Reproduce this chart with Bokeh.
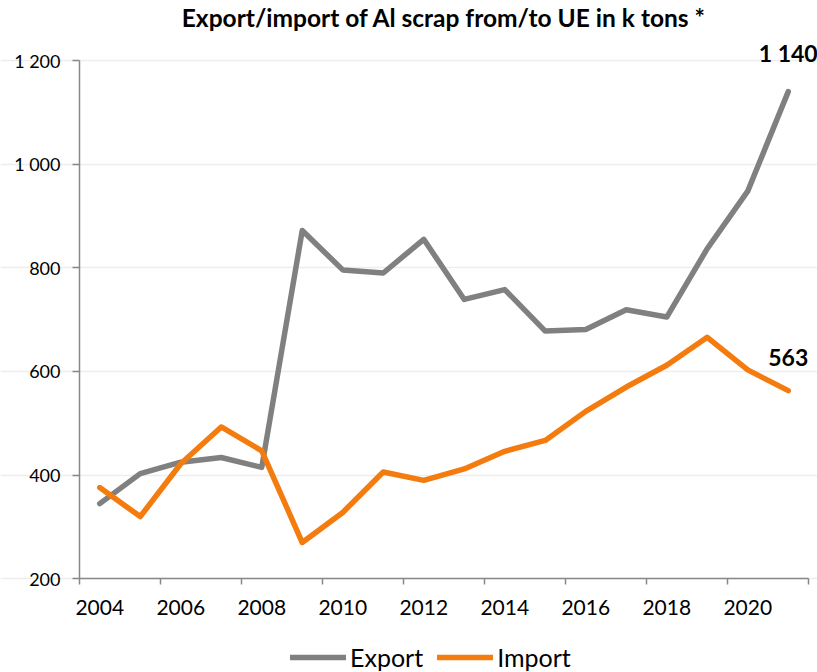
from bokeh.plotting import figure
from bokeh.models import (Range1d, FixedTicker, Legend, LegendItem, LabelSet,
                          Label, ColumnDataSource)
from bokeh.core.properties import value
from bokeh.embed import file_html
from bokeh.resources import INLINE

# ---- data ----
years = list(range(2004, 2022))
export_vals = [345, 403, 425, 434, 415, 872, 796, 790, 855, 739, 758, 678,
               681, 719, 705, 837, 948, 1140]
import_vals = [376, 320, 422, 493, 447, 270, 328, 406, 390, 412, 446, 467,
               523, 570, 612, 666, 603, 563]
y_ticks = [200, 400, 600, 800, 1000, 1200]
y_tick_labels = ["200", "400", "600", "800", "1 000", "1 200"]
x_ticks = [2004, 2006, 2008, 2010, 2012, 2014, 2016, 2018, 2020]
x_tick_labels = ["2004", "2006", "2008", "2010", "2012", "2014", "2016", "2018", "2020"]
end_labels = ["1 140", "563"]
title_text = "Export/import of Al scrap from/to UE in k tons *"

# ---- layout (canvas pixels) ----
W, H = 817, 672
AX_L, AX_R, AX_T, AX_B = 79.0, 808.0, 60.0, 578.3   # axes box inside canvas
x_lo, x_hi = years[0] - 0.5, years[-1] + 0.5
y_lo, y_hi = 200.0, 1200.0
sx = (AX_R - AX_L) / (x_hi - x_lo)
sy = (AX_B - AX_T) / (y_hi - y_lo)
x_start, x_end = x_lo - AX_L / sx, x_hi + (W - AX_R) / sx
y_start, y_end = y_lo - (H - AX_B) / sy, y_hi + AX_T / sy

GRAY = "#808080"
ORANGE = "#f47b0e"
AXC = "#888888"
FONT = "Lato"

p = figure(width=W, height=H, output_backend="svg", toolbar_location=None,
           x_range=Range1d(x_start, x_end), y_range=Range1d(y_start, y_end),
           min_border_left=0, min_border_right=0, min_border_top=0,
           min_border_bottom=0)
p.outline_line_color = None
p.background_fill_color = "white"
p.border_fill_color = "white"

r1 = p.line(years, export_vals, line_color=GRAY, line_width=5.5,
            line_join="round", line_cap="round")
r2 = p.line(years, import_vals, line_color=ORANGE, line_width=5.5,
            line_join="round", line_cap="round")

# x axis: labels at even years, tick marks at category boundaries
minor = [x_ticks[0] - 0.5 + 2 * i for i in range(len(x_ticks) + 1)]
xa = p.xaxis[0]
xa.fixed_location = y_lo
xa.bounds = (x_lo, x_hi)
xa.ticker = FixedTicker(ticks=x_ticks, minor_ticks=minor)
xa.major_label_overrides = {t: l for t, l in zip(x_ticks, x_tick_labels)}
xa.major_tick_out = 0
xa.major_tick_in = 0
xa.minor_tick_out = 6
xa.minor_tick_in = 0
xa.minor_tick_line_color = AXC
xa.minor_tick_line_width = 1.5
xa.axis_line_color = AXC
xa.axis_line_width = 1.5
xa.major_label_standoff = 15
xa.major_label_text_font = FONT
xa.major_label_text_font_size = "21px"
xa.major_label_text_color = "black"

ya = p.yaxis[0]
ya.fixed_location = x_lo
ya.bounds = (y_lo, y_hi)
ya.ticker = FixedTicker(ticks=y_ticks)
ya.major_label_overrides = {t: l for t, l in zip(y_ticks, y_tick_labels)}
ya.major_tick_out = 7
ya.major_tick_in = 0
ya.minor_tick_out = 0
ya.minor_tick_in = 0
ya.major_tick_line_color = AXC
ya.major_tick_line_width = 1.5
ya.axis_line_color = AXC
ya.axis_line_width = 1.5
ya.major_label_standoff = 12
ya.major_label_text_font = FONT
ya.major_label_text_font_size = "18px"
ya.major_label_text_color = "black"

p.xgrid.grid_line_color = None
p.ygrid.grid_line_color = "#ededed"
p.ygrid.grid_line_width = 1.5
p.ygrid.bounds = (x_lo, x_hi)
p.ygrid.ticker = FixedTicker(ticks=y_ticks)

# title
p.add_layout(Label(x=(x_lo + x_hi) / 2, y=y_end - 17 / sy, text=title_text,
                   text_align="center", text_baseline="middle",
                   text_font=FONT, text_font_style="bold",
                   text_font_size="24.5px", text_color="black"))

# end value labels
lab_src = ColumnDataSource(dict(x=[years[-1], years[-1]],
                                y=[export_vals[-1], import_vals[-1]],
                                t=end_labels))
p.add_layout(LabelSet(x="x", y="y", text="t", source=lab_src, y_offset=25,
                      text_align="center", text_baseline="bottom",
                      text_font=value(FONT), text_font_style="bold",
                      text_font_size="23px", text_color="black"))

legend = Legend(items=[LegendItem(label="Export", renderers=[r1]),
                       LegendItem(label="Import", renderers=[r2])],
                orientation="horizontal", location=(290, 0),
                border_line_color=None, background_fill_alpha=0,
                glyph_width=56, glyph_height=26, label_height=26,
                spacing=14, label_standoff=4, padding=0, margin=0,
                label_text_font=FONT, label_text_font_size="25px",
                label_text_color="black")
p.add_layout(legend)

open("out.html", "w").write(file_html(p, INLINE))
